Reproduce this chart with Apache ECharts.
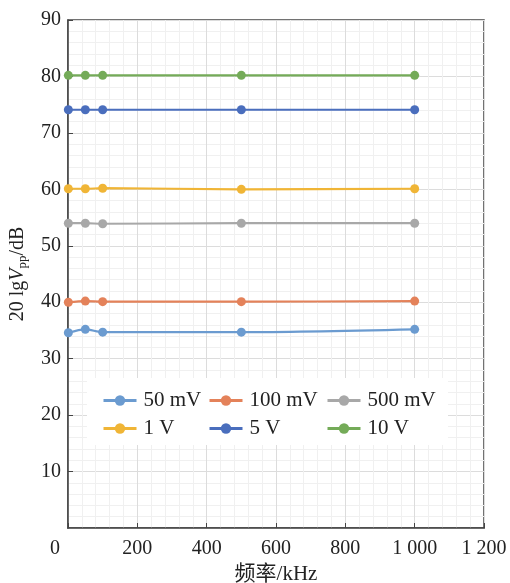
<!DOCTYPE html>
<html><head><meta charset="utf-8">
<script src="https://cdn.jsdelivr.net/npm/echarts@6/dist/echarts.min.js"></script>
<style>html,body{margin:0;padding:0;background:#fff}#c{width:510px;height:583px}</style>
</head><body><div id="c"></div>
<script>
const freq = [1, 50, 100, 500, 1000];
const seriesNames = ['50 mV', '100 mV', '500 mV', '1 V', '5 V', '10 V'];
const v50mV = [34.6, 35.2, 34.7, 34.7, 35.2];
const v100mV = [40.0, 40.2, 40.1, 40.1, 40.2];
const v500mV = [54.0, 54.0, 53.9, 54.0, 54.0];
const v1V = [60.1, 60.1, 60.2, 60.0, 60.1];
const v5V = [74.1, 74.1, 74.1, 74.1, 74.1];
const v10V = [80.2, 80.2, 80.2, 80.2, 80.2];
const xTicks = [0, 200, 400, 600, 800, 1000, 1200];
const yTicks = [0, 10, 20, 30, 40, 50, 60, 70, 80, 90];

const values = [v50mV, v100mV, v500mV, v1V, v5V, v10V];
const colors = ['#6b9bd0', '#e4825a', '#a8a8a8', '#f0b536', '#4a6ebd', '#74ab58'];
const serif = "'Liberation Serif', 'DejaVu Serif', serif";
const cjk = "'Liberation Serif', 'Noto Sans CJK SC', serif";

const chart = echarts.init(document.getElementById('c'), null, {renderer: 'canvas'});
const legendText = {fontFamily: serif, fontSize: 21, color: '#222', padding: [0, 0, 0, 2]};
function legendCol(left, names) {
  return {
    left: left, top: 385, orient: 'vertical', itemGap: 7, z: 10,
    itemWidth: 33, itemHeight: 13, data: names,
    lineStyle: {width: 3},
    textStyle: legendText, selectedMode: false
  };
}
chart.setOption({
  animation: false,
  color: colors,
  grid: {left: 68, right: 26, top: 20, bottom: 55, show: true, borderColor: '#444', borderWidth: 1.5,
         containLabel: false, outerBoundsMode: 'none'},
  graphic: [{type: 'rect', left: 87, top: 378, shape: {width: 361, height: 67}, style: {fill: '#fff'}, z: 5}],
  legend: [
    legendCol(97, ['50 mV', '1 V']),
    legendCol(203, ['100 mV', '5 V']),
    legendCol(321, ['500 mV', '10 V'])
  ],
  xAxis: {
    type: 'value', min: xTicks[0], max: xTicks[xTicks.length - 1], interval: 200,
    name: '频率/kHz', nameLocation: 'middle', nameGap: 33,
    nameTextStyle: {fontFamily: cjk, fontSize: 21, color: '#222'},
    axisLine: {show: true, lineStyle: {color: '#444', width: 1.5}},
    axisTick: {show: true, inside: true, length: 5, lineStyle: {color: '#444'}},
    axisLabel: {
      fontFamily: serif, fontSize: 20, color: '#222', margin: 11,
      formatter: function (v) {
        if (v === 0) return '{z|0}';
        return v >= 1000 ? String(v).replace(/(\d)(\d{3})$/, '$1 $2') : String(v);
      },
      rich: {z: {fontFamily: serif, fontSize: 20, color: '#222', padding: [0, 26, 0, 0]}}
    },
    splitLine: {show: true, lineStyle: {color: '#dcdcdc'}},
    minorTick: {show: false, splitNumber: 5},
    minorSplitLine: {show: true, lineStyle: {color: '#f0f0f0'}}
  },
  yAxis: {
    type: 'value', min: yTicks[0], max: yTicks[yTicks.length - 1], interval: 10,
    name: '{n|20 lg}{i|V}{s|pp}{n|/dB}', nameLocation: 'middle', nameGap: 39,
    nameTextStyle: {
      rich: {
        n: {fontFamily: serif, fontSize: 20, color: '#222'},
        i: {fontFamily: serif, fontSize: 20, fontStyle: 'italic', color: '#222'},
        s: {fontFamily: serif, fontSize: 13, color: '#222', verticalAlign: 'bottom', padding: [9, 0, 0, 0]}
      }
    },
    axisLine: {show: true, lineStyle: {color: '#444', width: 1.5}},
    axisTick: {show: true, inside: true, length: 5, lineStyle: {color: '#444'}},
    axisLabel: {fontFamily: serif, fontSize: 20, color: '#222', margin: 7, showMinLabel: false},
    splitLine: {show: true, lineStyle: {color: '#dcdcdc'}},
    minorTick: {show: false, splitNumber: 5},
    minorSplitLine: {show: true, lineStyle: {color: '#f0f0f0'}}
  },
  series: seriesNames.map((n, i) => ({
    name: n, type: 'line', smooth: 0.3,
    data: freq.map((f, j) => [f, values[i][j]]),
    symbol: 'circle', symbolSize: 9,
    lineStyle: {width: 2.2, color: colors[i]},
    itemStyle: {color: colors[i]},
    z: 3
  }))
});
</script></body></html>
